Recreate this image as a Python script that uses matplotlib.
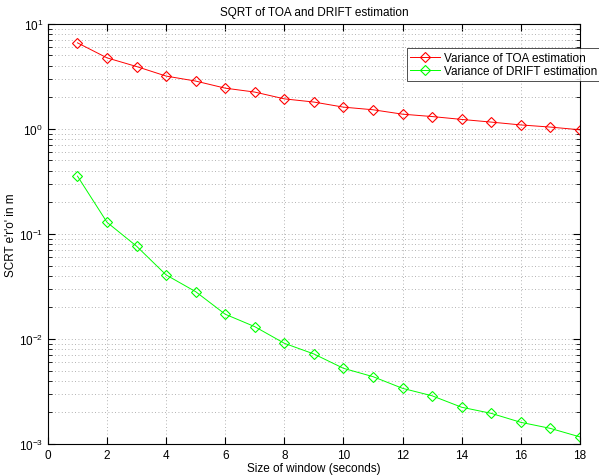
import matplotlib
matplotlib.use("Agg")
import matplotlib.pyplot as plt
from matplotlib.ticker import LogLocator, NullFormatter

plt.rcParams["font.family"] = ["Liberation Sans", "DejaVu Sans"]
plt.rcParams["mathtext.fontset"] = "custom"
plt.rcParams["mathtext.rm"] = "Liberation Sans"

window = [1, 2, 3, 4, 5, 6, 7, 8, 9, 10, 11, 12, 13, 14, 15, 16, 17, 18]
toa_err = [6.59, 4.74, 3.92, 3.18, 2.85, 2.44, 2.24, 1.93, 1.80, 1.61,
           1.52, 1.38, 1.31, 1.23, 1.16, 1.09, 1.04, 0.98]
drift_err = [0.355, 0.129, 0.0764, 0.0407, 0.0282, 0.0172, 0.0131, 0.0091,
             0.0072, 0.00526, 0.00438, 0.00339, 0.00288, 0.00224, 0.00196,
             0.00161, 0.00141, 0.00117]
x_ticks = [0, 2, 4, 6, 8, 10, 12, 14, 16, 18]

fig = plt.figure(figsize=(5.99, 4.77), dpi=100)
ax = fig.add_axes([0.080, 0.067, 0.888, 0.881])

ax.semilogy(window, toa_err, color="#ff0000", linewidth=0.7, marker="D",
            markersize=5.5, markerfacecolor="none", markeredgewidth=0.8,
            label="Variance of TOA estimation")
ax.semilogy(window, drift_err, color="#00ff00", linewidth=0.7, marker="D",
            markersize=5.5, markerfacecolor="none", markeredgewidth=0.8,
            label="Variance of DRIFT estimation")

ax.set_xlim(0, 18)
ax.set_ylim(1e-3, 1e1)
ax.set_xticks(x_ticks)
ax.yaxis.set_minor_locator(LogLocator(base=10, subs=range(2, 10)))
ax.yaxis.set_minor_formatter(NullFormatter())

ax.grid(True, which="major", axis="both", linestyle=(0, (1, 3)), color="#999999", linewidth=0.6)
ax.grid(True, which="minor", axis="y", linestyle=(0, (1, 3)), color="#999999", linewidth=0.6)

ax.tick_params(which="both", direction="in", top=True, right=True, labelsize=8.5)
ax.tick_params(which="major", length=5)
ax.tick_params(which="minor", length=3)
for sp in ax.spines.values():
    sp.set_linewidth(0.8)

ax.set_title("SQRT of TOA and DRIFT estimation", fontsize=8.5, pad=6)
ax.set_xlabel("Size of window (seconds)", fontsize=8.5, labelpad=1)
ax.set_ylabel("SCRT e'r'o' in m", fontsize=8.5)
ax.yaxis.set_label_coords(-0.058, 0.5)

leg = ax.legend(loc="upper left", bbox_to_anchor=(0.679, 0.897),
                bbox_transform=fig.transFigure, fontsize=8.5, frameon=True,
                fancybox=False, borderpad=0.3, labelspacing=0.15,
                handlelength=2.5, handletextpad=0.4, borderaxespad=0)
leg.get_frame().set_edgecolor("black")
leg.get_frame().set_linewidth(0.6)

fig.savefig("out.png", dpi=100)
